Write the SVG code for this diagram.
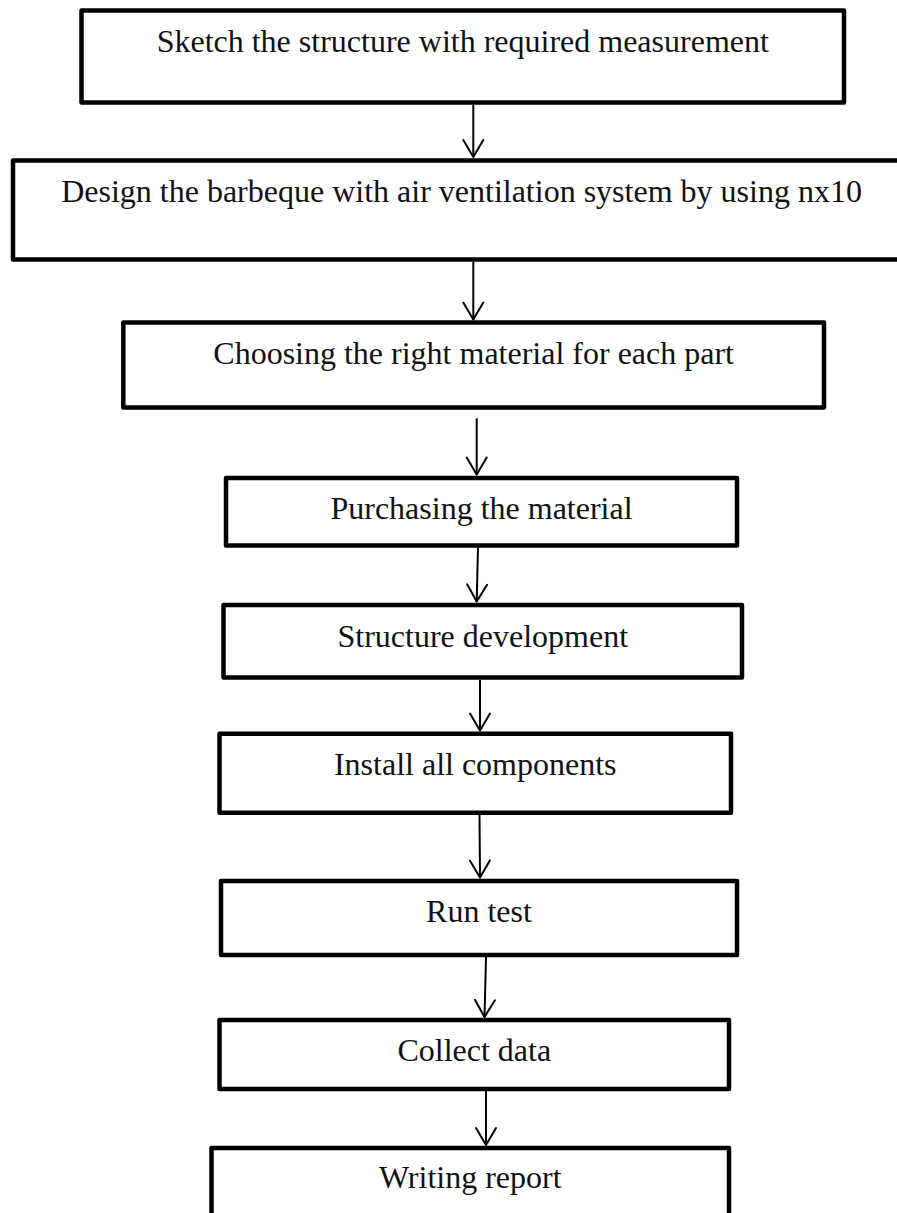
<svg xmlns="http://www.w3.org/2000/svg" width="897" height="1213" viewBox="0 0 897 1213">
<defs>
<style>
.box{fill:#fff;stroke:#000;stroke-width:4.5;stroke-linejoin:round}
.lbl{font-family:"Liberation Serif","Times New Roman",serif;font-size:32px;fill:#111;text-anchor:middle}
.conn{stroke:#000;stroke-width:2;fill:none}
</style>
<marker id="ah" markerUnits="userSpaceOnUse" viewBox="-20 -12 22 24" refX="0" refY="0" markerWidth="22" markerHeight="24" orient="auto" overflow="visible">
<path d="M-17,-10 L0,0 L-17,10" fill="none" stroke="#000" stroke-width="2" stroke-linejoin="round" stroke-linecap="round"/>
</marker>
</defs>
<rect width="897" height="1213" fill="#fff"/>
<g id="connectors">
<line class="conn" x1="473.3" y1="104.5" x2="473.3" y2="157" marker-end="url(#ah)"/>
<line class="conn" x1="473.3" y1="262" x2="473.3" y2="319.5" marker-end="url(#ah)"/>
<line class="conn" x1="476.7" y1="418.3" x2="476.7" y2="474.5" marker-end="url(#ah)"/>
<line class="conn" x1="478" y1="547.5" x2="476.7" y2="601.5" marker-end="url(#ah)"/>
<line class="conn" x1="480" y1="680" x2="480" y2="730.5" marker-end="url(#ah)"/>
<line class="conn" x1="479.5" y1="815" x2="480" y2="877.5" marker-end="url(#ah)"/>
<line class="conn" x1="486" y1="957" x2="484.5" y2="1017" marker-end="url(#ah)"/>
<line class="conn" x1="486" y1="1091" x2="486" y2="1145" marker-end="url(#ah)"/>
</g>
<g id="n1"><rect class="box" x="81.5" y="10.5" width="762.5" height="92"/><text class="lbl" x="462.75" y="52">Sketch the structure with required measurement</text></g>
<g id="n2"><rect class="box" x="13" y="160.5" width="897" height="99"/><text class="lbl" x="461.5" y="202">Design the barbeque with air ventilation system by using nx10</text></g>
<g id="n3"><rect class="box" x="123.3" y="322.5" width="700.7" height="85"/><text class="lbl" x="473.65" y="363.5">Choosing the right material for each part</text></g>
<g id="n4"><rect class="box" x="226" y="478" width="511" height="67.5"/><text class="lbl" x="481.5" y="518.5">Purchasing the material</text></g>
<g id="n5"><rect class="box" x="223.5" y="605" width="518.5" height="72.5"/><text class="lbl" x="482.75" y="647">Structure development</text></g>
<g id="n6"><rect class="box" x="219.5" y="733.7" width="511.5" height="79"/><text class="lbl" x="475.25" y="775">Install all components</text></g>
<g id="n7"><rect class="box" x="221" y="881" width="516" height="74"/><text class="lbl" x="479" y="921.7">Run test</text></g>
<g id="n8"><rect class="box" x="219.5" y="1020" width="509.5" height="69"/><text class="lbl" x="474.25" y="1060.7">Collect data</text></g>
<g id="n9"><rect class="box" x="211.5" y="1148" width="517.5" height="100"/><text class="lbl" x="470.25" y="1188">Writing report</text></g>
</svg>
